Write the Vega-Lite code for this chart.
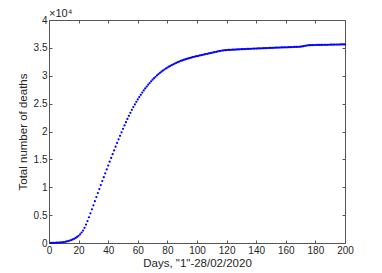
{
  "$schema": "https://vega.github.io/schema/vega-lite/v6.json",
  "width": 296,
  "height": 223,
  "autosize": {"type": "none"},
  "padding": {"left": 49, "top": 20, "right": 37, "bottom": 30},
  "background": "white",
  "config": {
    "view": {"stroke": null},
    "font": "Liberation Sans",
    "axis": {
      "domainColor": "#555555",
      "tickColor": "#555555",
      "labelColor": "#262626",
      "titleColor": "#262626",
      "labelFont": "Liberation Sans",
      "titleFont": "Liberation Sans",
      "labelFontSize": 10,
      "titleFontSize": 11.5,
      "titleFontWeight": "normal",
      "grid": false,
      "tickSize": -3
    }
  },
  "datasets": {
    "deaths": [
      {"day": 1, "deaths": 20}, {"day": 2, "deaths": 25}, {"day": 3, "deaths": 30}, {"day": 4, "deaths": 40}, {"day": 5, "deaths": 50},
      {"day": 6, "deaths": 65}, {"day": 7, "deaths": 80}, {"day": 8, "deaths": 100}, {"day": 9, "deaths": 130}, {"day": 10, "deaths": 170},
      {"day": 11, "deaths": 220}, {"day": 12, "deaths": 280}, {"day": 13, "deaths": 350}, {"day": 14, "deaths": 430}, {"day": 15, "deaths": 520},
      {"day": 16, "deaths": 630}, {"day": 17, "deaths": 760}, {"day": 18, "deaths": 910}, {"day": 19, "deaths": 1090}, {"day": 20, "deaths": 1300},
      {"day": 21, "deaths": 1560}, {"day": 22, "deaths": 1870}, {"day": 23, "deaths": 2240}, {"day": 24, "deaths": 2720}, {"day": 25, "deaths": 3300},
      {"day": 26, "deaths": 3940}, {"day": 27, "deaths": 4620}, {"day": 28, "deaths": 5320}, {"day": 29, "deaths": 6040}, {"day": 30, "deaths": 6770},
      {"day": 31, "deaths": 7500}, {"day": 32, "deaths": 8230}, {"day": 33, "deaths": 8960}, {"day": 34, "deaths": 9680}, {"day": 35, "deaths": 10400},
      {"day": 36, "deaths": 11100}, {"day": 37, "deaths": 11800}, {"day": 38, "deaths": 12500}, {"day": 39, "deaths": 13200}, {"day": 40, "deaths": 13900},
      {"day": 41, "deaths": 14580}, {"day": 42, "deaths": 15260}, {"day": 43, "deaths": 15940}, {"day": 44, "deaths": 16610}, {"day": 45, "deaths": 17280},
      {"day": 46, "deaths": 17940}, {"day": 47, "deaths": 18590}, {"day": 48, "deaths": 19230}, {"day": 49, "deaths": 19860}, {"day": 50, "deaths": 20480},
      {"day": 51, "deaths": 21090}, {"day": 52, "deaths": 21680}, {"day": 53, "deaths": 22260}, {"day": 54, "deaths": 22820}, {"day": 55, "deaths": 23360},
      {"day": 56, "deaths": 23880}, {"day": 57, "deaths": 24380}, {"day": 58, "deaths": 24860}, {"day": 59, "deaths": 25320}, {"day": 60, "deaths": 25760},
      {"day": 61, "deaths": 26180}, {"day": 62, "deaths": 26590}, {"day": 63, "deaths": 26980}, {"day": 64, "deaths": 27360}, {"day": 65, "deaths": 27720},
      {"day": 66, "deaths": 28060}, {"day": 67, "deaths": 28390}, {"day": 68, "deaths": 28700}, {"day": 69, "deaths": 29000}, {"day": 70, "deaths": 29290},
      {"day": 71, "deaths": 29560}, {"day": 72, "deaths": 29820}, {"day": 73, "deaths": 30070}, {"day": 74, "deaths": 30300}, {"day": 75, "deaths": 30520},
      {"day": 76, "deaths": 30730}, {"day": 77, "deaths": 30930}, {"day": 78, "deaths": 31120}, {"day": 79, "deaths": 31300}, {"day": 80, "deaths": 31470},
      {"day": 81, "deaths": 31630}, {"day": 82, "deaths": 31780}, {"day": 83, "deaths": 31920}, {"day": 84, "deaths": 32060}, {"day": 85, "deaths": 32190},
      {"day": 86, "deaths": 32310}, {"day": 87, "deaths": 32430}, {"day": 88, "deaths": 32540}, {"day": 89, "deaths": 32650}, {"day": 90, "deaths": 32750},
      {"day": 91, "deaths": 32840}, {"day": 92, "deaths": 32930}, {"day": 93, "deaths": 33020}, {"day": 94, "deaths": 33100}, {"day": 95, "deaths": 33180},
      {"day": 96, "deaths": 33250}, {"day": 97, "deaths": 33320}, {"day": 98, "deaths": 33390}, {"day": 99, "deaths": 33460}, {"day": 100, "deaths": 33520},
      {"day": 101, "deaths": 33580}, {"day": 102, "deaths": 33640}, {"day": 103, "deaths": 33700}, {"day": 104, "deaths": 33760}, {"day": 105, "deaths": 33820},
      {"day": 106, "deaths": 33880}, {"day": 107, "deaths": 33940}, {"day": 108, "deaths": 34000}, {"day": 109, "deaths": 34060}, {"day": 110, "deaths": 34120},
      {"day": 111, "deaths": 34180}, {"day": 112, "deaths": 34240}, {"day": 113, "deaths": 34300}, {"day": 114, "deaths": 34360}, {"day": 115, "deaths": 34420},
      {"day": 116, "deaths": 34470}, {"day": 117, "deaths": 34520}, {"day": 118, "deaths": 34560}, {"day": 119, "deaths": 34590}, {"day": 120, "deaths": 34610},
      {"day": 121, "deaths": 34625}, {"day": 122, "deaths": 34640}, {"day": 123, "deaths": 34655}, {"day": 124, "deaths": 34670}, {"day": 125, "deaths": 34685},
      {"day": 126, "deaths": 34700}, {"day": 127, "deaths": 34715}, {"day": 128, "deaths": 34730}, {"day": 129, "deaths": 34745}, {"day": 130, "deaths": 34760},
      {"day": 131, "deaths": 34772}, {"day": 132, "deaths": 34784}, {"day": 133, "deaths": 34796}, {"day": 134, "deaths": 34808}, {"day": 135, "deaths": 34820},
      {"day": 136, "deaths": 34832}, {"day": 137, "deaths": 34844}, {"day": 138, "deaths": 34856}, {"day": 139, "deaths": 34868}, {"day": 140, "deaths": 34880},
      {"day": 141, "deaths": 34892}, {"day": 142, "deaths": 34904}, {"day": 143, "deaths": 34916}, {"day": 144, "deaths": 34928}, {"day": 145, "deaths": 34940},
      {"day": 146, "deaths": 34952}, {"day": 147, "deaths": 34964}, {"day": 148, "deaths": 34976}, {"day": 149, "deaths": 34988}, {"day": 150, "deaths": 35000},
      {"day": 151, "deaths": 35010}, {"day": 152, "deaths": 35020}, {"day": 153, "deaths": 35030}, {"day": 154, "deaths": 35040}, {"day": 155, "deaths": 35050},
      {"day": 156, "deaths": 35060}, {"day": 157, "deaths": 35070}, {"day": 158, "deaths": 35080}, {"day": 159, "deaths": 35090}, {"day": 160, "deaths": 35100},
      {"day": 161, "deaths": 35110}, {"day": 162, "deaths": 35120}, {"day": 163, "deaths": 35130}, {"day": 164, "deaths": 35140}, {"day": 165, "deaths": 35150},
      {"day": 166, "deaths": 35160}, {"day": 167, "deaths": 35170}, {"day": 168, "deaths": 35180}, {"day": 169, "deaths": 35195}, {"day": 170, "deaths": 35215},
      {"day": 171, "deaths": 35250}, {"day": 172, "deaths": 35300}, {"day": 173, "deaths": 35360}, {"day": 174, "deaths": 35410}, {"day": 175, "deaths": 35450},
      {"day": 176, "deaths": 35475}, {"day": 177, "deaths": 35490}, {"day": 178, "deaths": 35500}, {"day": 179, "deaths": 35508}, {"day": 180, "deaths": 35515},
      {"day": 181, "deaths": 35520}, {"day": 182, "deaths": 35525}, {"day": 183, "deaths": 35530}, {"day": 184, "deaths": 35535}, {"day": 185, "deaths": 35540},
      {"day": 186, "deaths": 35545}, {"day": 187, "deaths": 35550}, {"day": 188, "deaths": 35555}, {"day": 189, "deaths": 35560}, {"day": 190, "deaths": 35565},
      {"day": 191, "deaths": 35571}, {"day": 192, "deaths": 35577}, {"day": 193, "deaths": 35583}, {"day": 194, "deaths": 35589}, {"day": 195, "deaths": 35595},
      {"day": 196, "deaths": 35601}, {"day": 197, "deaths": 35607}, {"day": 198, "deaths": 35613}, {"day": 199, "deaths": 35619}, {"day": 200, "deaths": 35625}
    ],
    "exponent": [{"day": 0, "deaths": 40000, "label": "×10⁴"}]
  },
  "layer": [
    {
      "data": {"name": "deaths"},
      "mark": {"type": "point", "filled": true, "shape": "circle", "size": 5, "color": "#0000ff", "opacity": 1},
      "encoding": {
        "x": {
          "field": "day", "type": "quantitative",
          "scale": {"domain": [0, 200], "nice": false, "zero": false},
          "axis": {"orient": "bottom", "values": [0, 20, 40, 60, 80, 100, 120, 140, 160, 180, 200], "title": "Days, \"1\"-28/02/2020", "labelPadding": 5, "titlePadding": 2, "labelFlush": false}
        },
        "y": {
          "field": "deaths", "type": "quantitative",
          "scale": {"domain": [0, 40000], "nice": false},
          "axis": {"orient": "left", "values": [0, 5000, 10000, 15000, 20000, 25000, 30000, 35000, 40000], "labelExpr": "'' + datum.value / 10000", "title": "Total number of deaths", "labelPadding": 5, "titlePadding": 5, "labelFlush": false}
        }
      }
    },
    {
      "data": {"name": "exponent"},
      "mark": {"type": "text", "align": "left", "baseline": "bottom", "dy": -1, "fontSize": 11, "color": "#262626", "font": "Liberation Sans"},
      "encoding": {
        "text": {"field": "label"},
        "x": {
          "field": "day", "type": "quantitative",
          "axis": {"orient": "top", "values": [0, 20, 40, 60, 80, 100, 120, 140, 160, 180, 200], "labels": false, "title": null}
        },
        "y": {
          "field": "deaths", "type": "quantitative",
          "axis": {"orient": "right", "values": [0, 5000, 10000, 15000, 20000, 25000, 30000, 35000, 40000], "labels": false, "title": null}
        }
      }
    }
  ]
}
